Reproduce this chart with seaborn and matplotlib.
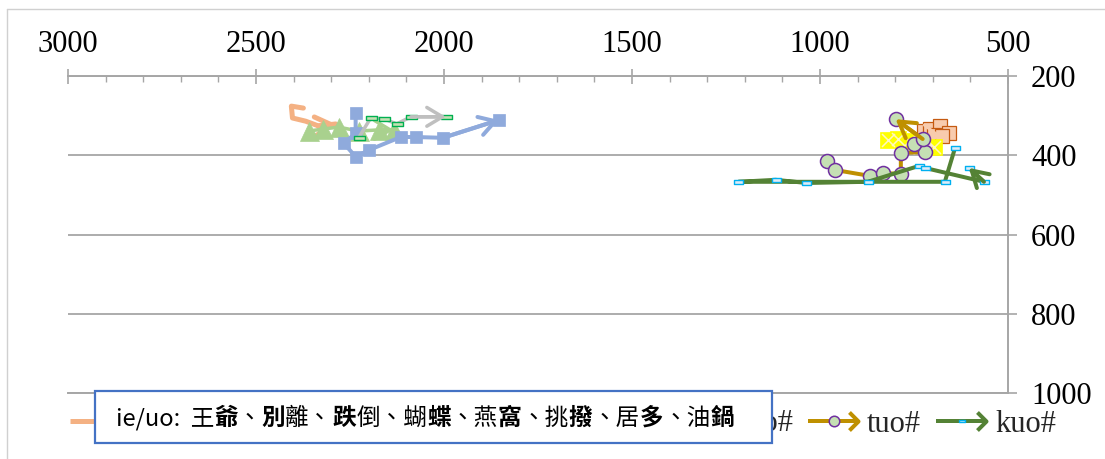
import numpy as np
import pandas as pd
import matplotlib
matplotlib.use("Agg")
import matplotlib.pyplot as plt
import seaborn as sns
from matplotlib.lines import Line2D
from matplotlib.path import Path
from matplotlib.patches import Rectangle
from matplotlib.markers import MarkerStyle
from matplotlib.legend_handler import HandlerBase
from matplotlib.offsetbox import TextArea, HPacker, AnnotationBbox
from matplotlib.ticker import MultipleLocator

# ---- formant trajectories: F2 (x) and F1 (y), Hz ----
series_names = ["ie#", "pie#", "tie#", "die#", "uo#", "puo#", "tuo#", "kuo#"]

ie_f2 = [2374, 2406, 2403, 2368, 2334, 2288]
ie_f1 = [281, 276, 306, 314, 326, 321]

pie_f2 = [2360, 2323, 2280, 2227, 2174, 2134]
pie_f1 = [339, 334, 329, 339, 336, 336]

tie_f2 = [2235, 2235, 2267, 2235, 2200, 2115, 2075, 2003, 1854]
tie_f1 = [293, 345, 369, 404, 387, 354, 354, 356, 311]

die_f2 = [2227, 2195, 2160, 2126, 2088, 1995]
die_f1 = [356, 306, 308, 321, 303, 303]

uo_f2 = [724, 708, 681, 657, 697, 676]
uo_f1 = [340, 335, 327, 343, 350, 352]

puo_f2 = [820, 793, 764, 729, 697]
puo_f1 = [361, 359, 364, 374, 379]

tuo_f2 = [982, 961, 868, 833, 785, 785, 721, 751, 727, 799]
tuo_f1 = [414, 437, 452, 445, 447, 394, 392, 372, 359, 309]

kuo_f2 = [641, 668, 1217, 1118, 1036, 873, 737, 721, 564, 604]
kuo_f1 = [382, 467, 467, 462, 470, 467, 427, 432, 467, 432]

x_ticks = [3000, 2500, 2000, 1500, 1000, 500]
y_ticks = [200, 400, 600, 800, 1000]

note_parts = [("ie/uo:  王", "normal"), ("爺", "bold"), ("、", "normal"),
              ("別", "bold"), ("離、", "normal"), ("跌", "bold"),
              ("倒、蝴", "normal"), ("蝶", "bold"), ("、燕", "normal"),
              ("窩", "bold"), ("、挑", "normal"), ("撥", "bold"),
              ("、居", "normal"), ("多", "bold"), ("、油", "normal"),
              ("鍋", "bold")]

# ---- style ----
sns.set_theme(style="white")
plt.rcParams["font.family"] = ["Liberation Serif", "DejaVu Serif"]

W, H = 1105, 459
fig = plt.figure(figsize=(W / 100, H / 100), dpi=100)
ax = fig.add_axes([68 / W, 1 - 393 / H, (1008 - 68) / W, (393 - 76) / H])

GRID = "#a6a6a6"
PX = 0.72  # points per pixel

rect_marker = Path([(-1, -0.42), (1, -0.42), (1, 0.42), (-1, 0.42), (-1, -0.42)],
                   [Path.MOVETO, Path.LINETO, Path.LINETO, Path.LINETO, Path.CLOSEPOLY])
chevron = Path([(-1, 1), (0, 0), (-1, -1)], [Path.MOVETO, Path.LINETO, Path.LINETO])

styles = {
    "ie#":  dict(color="#f4b183", lw=5 * PX, marker="None", ms=0, mfc="#f4b183", mec="#f4b183", mew=0),
    "pie#": dict(color="#a9d18e", lw=3.5 * PX, marker="^", ms=19 * PX, mfc="#a9d18e", mec="#a9d18e", mew=0.5),
    "tie#": dict(color="#8faadc", lw=4 * PX, marker="s", ms=12 * PX, mfc="#8faadc", mec="#8faadc", mew=0.5),
    "die#": dict(color="#bfbfbf", lw=3.5 * PX, marker=rect_marker, ms=11 * PX, mfc="#c5e0b4", mec="#00b050", mew=1.0),
    "uo#":  dict(color="#f8cbad", lw=3 * PX, marker="s", ms=14 * PX, mfc="#f8cbad", mec="#c55a11", mew=0.9),
    "puo#": dict(color="#fbe5d6", lw=3 * PX, marker="s", ms=16 * PX, mfc="#ffff00", mec="#ffff00", mew=0.5),
    "tuo#": dict(color="#bf9000", lw=4 * PX, marker="o", ms=14 * PX, mfc="#c5e0b4", mec="#7030a0", mew=1.1),
    "kuo#": dict(color="#548235", lw=4 * PX, marker=rect_marker, ms=9 * PX, mfc="#deebf7", mec="#00b0f0", mew=1.0),
}

data = {
    "ie#": (ie_f2, ie_f1), "pie#": (pie_f2, pie_f1), "tie#": (tie_f2, tie_f1),
    "die#": (die_f2, die_f1), "uo#": (uo_f2, uo_f1), "puo#": (puo_f2, puo_f1),
    "tuo#": (tuo_f2, tuo_f1), "kuo#": (kuo_f2, kuo_f1),
}

for z, name in enumerate(series_names):
    f2, f1 = data[name]
    st = styles[name]
    df = pd.DataFrame({"F2": f2, "F1": f1})
    sns.lineplot(data=df, x="F2", y="F1", sort=False, estimator=None, ax=ax,
                 color=st["color"], lw=st["lw"], marker=st["marker"], ms=st["ms"],
                 mfc=st["mfc"], mec=st["mec"], mew=st["mew"], zorder=3 + z,
                 legend=False)
    if name == "puo#":
        # light cross-hatch inside the yellow markers
        sns.scatterplot(data=df, x="F2", y="F1", ax=ax, marker="x", s=(13 * PX) ** 2,
                        color="#fff7c0", linewidth=1.1, zorder=3 + z, legend=False)
    ax.annotate("", xy=(f2[-1], f1[-1]), xytext=(f2[-2], f1[-2]),
                arrowprops=dict(arrowstyle="->,head_length=0.75,head_width=0.45",
                                color=st["color"], lw=st["lw"], shrinkA=0, shrinkB=0,
                                mutation_scale=15),
                zorder=3 + z)

# ---- axes ----
ax.set_xlim(3000, 500)
ax.set_ylim(1000, 200)
ax.set_xlabel("")
ax.set_ylabel("")
ax.set_xticks(x_ticks)
ax.set_xticklabels([str(v) for v in x_ticks])
ax.xaxis.set_minor_locator(MultipleLocator(100))
ax.set_yticks(y_ticks)
ax.set_yticklabels([str(v) for v in y_ticks])
ax.xaxis.tick_top()
ax.yaxis.tick_right()
ax.tick_params(axis="x", which="major", direction="inout", length=15 * PX, width=1.2,
               color=GRID, pad=7, labelsize=22, labelcolor="black")
ax.tick_params(axis="x", which="minor", direction="in", length=6 * PX, width=1.0,
               color=GRID)
ax.tick_params(axis="y", which="major", direction="out", length=9 * PX, width=1.2,
               color=GRID, pad=10, labelsize=22, labelcolor="black")
ax.grid(axis="y", color=GRID, lw=1.3)
ax.grid(axis="x", visible=False)
for side in ["top", "right", "bottom"]:
    ax.spines[side].set_visible(True)
    ax.spines[side].set_color(GRID)
    ax.spines[side].set_linewidth(1.4)
ax.spines["left"].set_visible(False)
ax.set_facecolor("white")


# ---- legend with line / marker / arrowhead samples ----
class TrajectoryHandler(HandlerBase):
    def create_artists(self, legend, orig_handle, xdescent, ydescent, width, height,
                       fontsize, trans):
        y = height / 2 - ydescent
        x0, x1 = -xdescent, width - xdescent
        c = orig_handle.get_color()
        lw = orig_handle.get_linewidth()
        line = Line2D([x0, x1], [y, y], color=c, lw=lw, solid_capstyle="butt")
        mk = Line2D([x0 + 0.52 * (x1 - x0)], [y], linestyle="none",
                    marker=orig_handle.get_marker(),
                    ms=orig_handle.get_markersize() * 0.75,
                    mfc=orig_handle.get_markerfacecolor(),
                    mec=orig_handle.get_markeredgecolor(),
                    mew=orig_handle.get_markeredgewidth())
        head = Line2D([x1], [y], linestyle="none",
                      marker=MarkerStyle(chevron, fillstyle="none"),
                      ms=13, mec=c, mew=lw)
        arts = [line, mk, head]
        for a in arts:
            a.set_transform(trans)
        return arts


handles = []
for name in series_names:
    st = styles[name]
    handles.append(Line2D([], [], color=st["color"], lw=st["lw"], marker=st["marker"],
                          ms=st["ms"], mfc=st["mfc"], mec=st["mec"], mew=st["mew"]))

fs_leg = 22
em = fs_leg * 100 / 72
leg = ax.legend(handles, series_names, handler_map={Line2D: TrajectoryHandler()},
                ncol=8, loc="center right", bbox_to_anchor=(1056 / W, 1 - 424 / H),
                bbox_transform=fig.transFigure, frameon=False, borderpad=0,
                borderaxespad=0, handlelength=50 / em, handletextpad=9 / em,
                columnspacing=15 / em, fontsize=fs_leg)
# the first five labels lie fully beneath the note box
for t in leg.get_texts()[:5]:
    t.set_alpha(0)

# ---- outer chart border ----
fig.add_artist(Line2D([7 / W, 7 / W], [0, 1 - 9 / H], transform=fig.transFigure,
                      color="#d0d0d0", lw=1.0))
fig.add_artist(Line2D([7 / W, 1], [1 - 9 / H, 1 - 9 / H], transform=fig.transFigure,
                      color="#d0d0d0", lw=1.0))

# ---- note box ----
fig.add_artist(Rectangle((95 / W, 1 - 443 / H), 677 / W, 52 / H,
                         transform=fig.transFigure, facecolor="white",
                         edgecolor="#4472c4", lw=1.6, zorder=10))
cjk = ["Noto Sans CJK TC", "DejaVu Sans"]
areas = [TextArea(s, textprops=dict(family=cjk, fontsize=17, fontweight=w, color="black"))
         for s, w in note_parts]
pack = HPacker(children=areas, sep=0, pad=0, align="baseline")
ab = AnnotationBbox(pack, (116 / W, 1 - 418 / H), xycoords="figure fraction",
                    box_alignment=(0, 0.5), frameon=False, pad=0, zorder=11)
fig.add_artist(ab)

fig.savefig("out.png", dpi=100, facecolor="white")
